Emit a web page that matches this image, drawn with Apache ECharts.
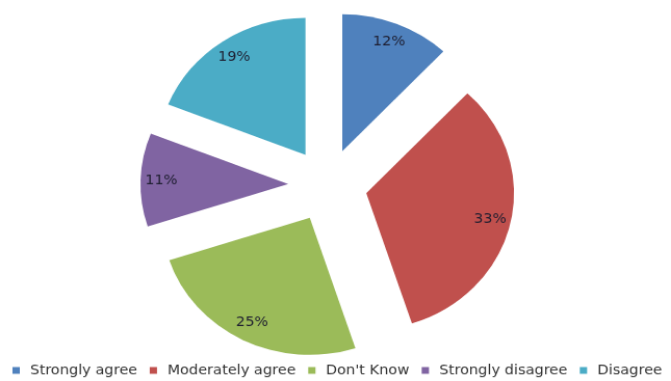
<!DOCTYPE html>
<html>
<head>
<meta charset="utf-8">
<script src="https://cdn.jsdelivr.net/npm/echarts@6/dist/echarts.min.js"></script>
<style>
  html, body { margin: 0; padding: 0; background: #ffffff; overflow: hidden; }
  #frame { width: 671px; height: 381px; overflow: hidden; position: relative; }
  /* the figure is slightly wider than it is tall: draw on a 645x395 canvas and fit it to 671x381 */
  #chart {
    width: 645px; height: 395px;
    transform: scale(1.0403, 0.9646);
    transform-origin: 0 0;
  }
</style>
</head>
<body>
<div id="frame"><div id="chart"></div></div>
<script>
// Survey answers and their share of respondents (percent)
const categories = ['Strongly agree', 'Moderately agree', "Don't Know", 'Strongly disagree', 'Disagree'];
const shares = [12, 33, 25, 11, 19];
const palette = ['#4f81bd', '#c0504d', '#9bbb59', '#8064a2', '#4bacc6'];

// Geometry of the exploded pie (canvas units)
const pieCenter = [315, 192];
const outerRadius = 142;
const labelInner = 96;      // labels sit midway in the ring [labelInner, outerRadius]
const explodeOffset = 38;

const slices = categories.map((name, i) => ({
  name: name,
  value: shares[i],
  selected: true,
  itemStyle: { color: palette[i] }
}));

const labelRing = categories.map((name, i) => ({
  name: name,
  value: shares[i],
  selected: true
}));

const chart = echarts.init(document.getElementById('chart'), null, { renderer: 'canvas' });

chart.setOption({
  animation: false,
  backgroundColor: '#ffffff',
  legend: {
    left: 12,
    top: 377,
    width: 633,
    padding: 0,
    icon: 'rect',
    itemWidth: 7,
    itemHeight: 7,
    itemGap: 12,
    selectedMode: false,
    data: categories.map((n, i) => ({ name: n, itemStyle: { color: palette[i] } })),
    textStyle: {
      fontFamily: 'DejaVu Sans',
      fontSize: 14,
      color: '#333333',
      padding: [0, 0, 0, 5]
    }
  },
  series: [
    {
      type: 'pie',
      center: pieCenter,
      radius: [0, outerRadius],
      startAngle: 90,
      clockwise: true,
      selectedMode: 'multiple',
      selectedOffset: explodeOffset,
      silent: true,
      emphasis: { disabled: true },
      label: { show: false },
      labelLine: { show: false },
      data: slices
    },
    {
      // transparent ring carrying the percentage labels
      type: 'pie',
      center: pieCenter,
      radius: [labelInner, outerRadius],
      startAngle: 90,
      clockwise: true,
      selectedMode: 'multiple',
      selectedOffset: explodeOffset,
      silent: true,
      emphasis: { disabled: true },
      itemStyle: { color: 'rgba(0,0,0,0)' },
      labelLine: { show: false },
      label: {
        show: true,
        position: 'inside',
        formatter: p => p.value + '%',
        fontFamily: 'DejaVu Sans',
        fontSize: 14,
        color: '#1e1e30'
      },
      data: labelRing
    }
  ]
});
</script>
</body>
</html>
